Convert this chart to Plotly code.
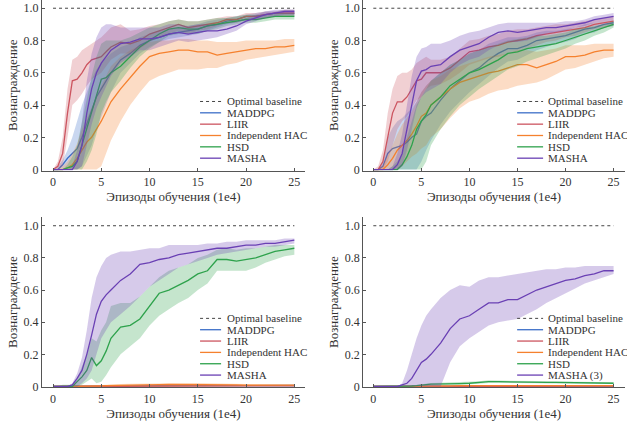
import plotly.graph_objects as go

# episodes (1e4) shared by every panel
EPISODES = [0, 0.5, 1, 1.5, 2, 2.5, 3, 3.5, 4, 4.5, 5, 5.5, 6, 7, 8, 9, 10,
            11, 12, 13, 14, 15, 16, 17, 18, 19, 20, 21, 22, 23, 24, 25]
BASELINE_X = [0, 25]
BASELINE_Y = [1.0, 1.0]

NAMES = ['MADDPG', 'LIIR', 'Independent HAC', 'HSD', 'MASHA']
COLORS = ['#3d6fc8', '#cc5560', '#f5812e', '#2ea24c', '#6a40b4']
BAND_ALPHA = 0.28

# ---- panel A (top left)
A_MADDPG = [0, 0, 0.03, 0.07, 0.10, 0.13, 0.20, 0.28, 0.37, 0.45, 0.50, 0.55, 0.60, 0.68, 0.72, 0.77, 0.80, 0.82, 0.84, 0.85, 0.86, 0.87, 0.89, 0.90, 0.92, 0.93, 0.95, 0.95, 0.96, 0.97, 0.97, 0.97]
A_MADDPG_LO = [0, 0, 0, 0, 0, 0, 0.02, 0.08, 0.15, 0.25, 0.32, 0.40, 0.48, 0.60, 0.66, 0.72, 0.76, 0.79, 0.81, 0.82, 0.83, 0.84, 0.86, 0.88, 0.90, 0.91, 0.93, 0.93, 0.94, 0.95, 0.95, 0.95]
A_MADDPG_HI = [0, 0.02, 0.06, 0.12, 0.20, 0.30, 0.40, 0.48, 0.56, 0.62, 0.66, 0.69, 0.72, 0.76, 0.78, 0.82, 0.84, 0.86, 0.87, 0.88, 0.89, 0.90, 0.92, 0.93, 0.94, 0.95, 0.96, 0.97, 0.98, 0.98, 0.99, 0.99]
A_LIIR = [0, 0.02, 0.10, 0.35, 0.55, 0.56, 0.60, 0.65, 0.68, 0.69, 0.70, 0.73, 0.76, 0.79, 0.78, 0.80, 0.84, 0.86, 0.88, 0.90, 0.88, 0.89, 0.90, 0.91, 0.93, 0.93, 0.95, 0.95, 0.96, 0.97, 0.97, 0.97]
A_LIIR_LO = [0, 0, 0.02, 0.20, 0.40, 0.43, 0.47, 0.52, 0.56, 0.58, 0.60, 0.64, 0.68, 0.72, 0.72, 0.75, 0.79, 0.82, 0.84, 0.86, 0.84, 0.86, 0.87, 0.89, 0.91, 0.91, 0.93, 0.93, 0.94, 0.95, 0.95, 0.95]
A_LIIR_HI = [0, 0.05, 0.20, 0.50, 0.68, 0.70, 0.74, 0.76, 0.78, 0.80, 0.82, 0.85, 0.88, 0.90, 0.86, 0.87, 0.89, 0.90, 0.92, 0.93, 0.92, 0.92, 0.93, 0.94, 0.95, 0.95, 0.97, 0.97, 0.98, 0.98, 0.99, 0.99]
A_HAC = [0, 0, 0, 0.01, 0.03, 0.07, 0.12, 0.17, 0.20, 0.25, 0.30, 0.36, 0.42, 0.50, 0.57, 0.64, 0.70, 0.72, 0.73, 0.74, 0.74, 0.73, 0.73, 0.71, 0.72, 0.73, 0.74, 0.75, 0.75, 0.76, 0.76, 0.77]
A_HAC_LO = [0, 0, 0, 0, 0, 0, 0, 0, 0, 0, 0.02, 0.10, 0.18, 0.30, 0.40, 0.48, 0.55, 0.58, 0.60, 0.62, 0.62, 0.62, 0.63, 0.63, 0.65, 0.66, 0.68, 0.69, 0.70, 0.71, 0.72, 0.73]
A_HAC_HI = [0, 0, 0.02, 0.05, 0.10, 0.16, 0.25, 0.32, 0.38, 0.45, 0.52, 0.58, 0.64, 0.70, 0.74, 0.77, 0.79, 0.80, 0.80, 0.81, 0.81, 0.80, 0.80, 0.79, 0.79, 0.79, 0.80, 0.80, 0.80, 0.80, 0.81, 0.81]
A_HSD = [0, 0, 0, 0.01, 0.02, 0.05, 0.15, 0.25, 0.35, 0.45, 0.56, 0.57, 0.60, 0.64, 0.70, 0.76, 0.80, 0.84, 0.87, 0.88, 0.87, 0.87, 0.89, 0.90, 0.91, 0.92, 0.93, 0.93, 0.94, 0.95, 0.95, 0.95]
A_HSD_LO = [0, 0, 0, 0, 0, 0, 0, 0.05, 0.12, 0.22, 0.35, 0.42, 0.48, 0.55, 0.63, 0.70, 0.75, 0.79, 0.83, 0.84, 0.84, 0.84, 0.86, 0.87, 0.89, 0.90, 0.91, 0.91, 0.92, 0.93, 0.93, 0.93]
A_HSD_HI = [0, 0, 0, 0.03, 0.08, 0.15, 0.30, 0.45, 0.58, 0.70, 0.78, 0.80, 0.80, 0.80, 0.82, 0.85, 0.88, 0.90, 0.92, 0.93, 0.92, 0.92, 0.93, 0.94, 0.94, 0.95, 0.96, 0.96, 0.96, 0.97, 0.97, 0.97]
A_MASHA = [0, 0, 0, 0, 0, 0.05, 0.15, 0.35, 0.50, 0.60, 0.66, 0.70, 0.74, 0.78, 0.79, 0.81, 0.81, 0.82, 0.84, 0.85, 0.84, 0.85, 0.86, 0.86, 0.87, 0.89, 0.92, 0.94, 0.96, 0.97, 0.98, 0.98]
A_MASHA_LO = [0, 0, 0, 0, 0, 0, 0.02, 0.15, 0.28, 0.38, 0.45, 0.52, 0.58, 0.66, 0.70, 0.74, 0.74, 0.76, 0.78, 0.80, 0.79, 0.80, 0.81, 0.82, 0.84, 0.86, 0.90, 0.92, 0.94, 0.95, 0.96, 0.96]
A_MASHA_HI = [0, 0, 0, 0, 0.02, 0.12, 0.30, 0.55, 0.72, 0.82, 0.88, 0.90, 0.90, 0.88, 0.88, 0.88, 0.88, 0.88, 0.90, 0.90, 0.89, 0.90, 0.90, 0.90, 0.91, 0.92, 0.94, 0.96, 0.98, 0.99, 0.99, 0.99]

# ---- panel B (top right)
B_MADDPG = [0, 0, 0.02, 0.10, 0.13, 0.14, 0.15, 0.17, 0.20, 0.22, 0.30, 0.33, 0.35, 0.43, 0.50, 0.55, 0.60, 0.63, 0.68, 0.72, 0.75, 0.75, 0.77, 0.80, 0.81, 0.82, 0.83, 0.85, 0.87, 0.88, 0.90, 0.91]
B_MADDPG_LO = [0, 0, 0, 0, 0, 0, 0, 0, 0, 0, 0.05, 0.12, 0.18, 0.28, 0.36, 0.42, 0.48, 0.53, 0.58, 0.63, 0.67, 0.68, 0.71, 0.74, 0.76, 0.78, 0.79, 0.81, 0.84, 0.85, 0.88, 0.89]
B_MADDPG_HI = [0, 0, 0.05, 0.20, 0.26, 0.30, 0.32, 0.35, 0.38, 0.42, 0.48, 0.52, 0.55, 0.60, 0.65, 0.68, 0.72, 0.74, 0.78, 0.80, 0.82, 0.82, 0.83, 0.85, 0.86, 0.86, 0.87, 0.88, 0.90, 0.91, 0.92, 0.93]
B_LIIR = [0, 0, 0.05, 0.20, 0.35, 0.42, 0.42, 0.45, 0.50, 0.55, 0.56, 0.60, 0.60, 0.60, 0.63, 0.68, 0.73, 0.74, 0.76, 0.77, 0.79, 0.80, 0.81, 0.83, 0.84, 0.85, 0.86, 0.87, 0.88, 0.90, 0.91, 0.92]
B_LIIR_LO = [0, 0, 0, 0.05, 0.15, 0.25, 0.30, 0.33, 0.38, 0.43, 0.45, 0.50, 0.52, 0.53, 0.56, 0.60, 0.65, 0.67, 0.69, 0.70, 0.72, 0.73, 0.75, 0.77, 0.79, 0.80, 0.82, 0.83, 0.85, 0.87, 0.88, 0.89]
B_LIIR_HI = [0, 0.02, 0.12, 0.35, 0.50, 0.58, 0.60, 0.60, 0.62, 0.66, 0.68, 0.70, 0.68, 0.68, 0.70, 0.75, 0.80, 0.81, 0.83, 0.84, 0.86, 0.87, 0.87, 0.88, 0.89, 0.90, 0.90, 0.91, 0.92, 0.93, 0.94, 0.95]
B_HAC = [0, 0, 0, 0.03, 0.07, 0.12, 0.15, 0.18, 0.22, 0.27, 0.33, 0.35, 0.40, 0.45, 0.50, 0.54, 0.56, 0.58, 0.60, 0.61, 0.63, 0.65, 0.65, 0.63, 0.65, 0.67, 0.70, 0.70, 0.71, 0.73, 0.74, 0.74]
B_HAC_LO = [0, 0, 0, 0, 0, 0, 0.02, 0.05, 0.08, 0.10, 0.13, 0.15, 0.20, 0.25, 0.32, 0.38, 0.42, 0.44, 0.47, 0.49, 0.50, 0.52, 0.53, 0.54, 0.56, 0.59, 0.62, 0.63, 0.65, 0.67, 0.69, 0.70]
B_HAC_HI = [0, 0, 0.02, 0.08, 0.15, 0.22, 0.28, 0.32, 0.36, 0.42, 0.48, 0.52, 0.55, 0.58, 0.62, 0.64, 0.66, 0.68, 0.70, 0.71, 0.72, 0.74, 0.74, 0.73, 0.74, 0.75, 0.77, 0.77, 0.77, 0.78, 0.78, 0.78]
B_HSD = [0, 0, 0, 0, 0, 0, 0.03, 0.08, 0.15, 0.25, 0.30, 0.34, 0.40, 0.45, 0.52, 0.56, 0.60, 0.62, 0.65, 0.68, 0.72, 0.73, 0.75, 0.76, 0.77, 0.78, 0.80, 0.82, 0.84, 0.86, 0.88, 0.90]
B_HSD_LO = [0, 0, 0, 0, 0, 0, 0, 0, 0, 0, 0, 0.05, 0.15, 0.25, 0.33, 0.40, 0.45, 0.50, 0.54, 0.58, 0.62, 0.64, 0.67, 0.69, 0.71, 0.73, 0.75, 0.78, 0.80, 0.83, 0.85, 0.88]
B_HSD_HI = [0, 0, 0, 0, 0.02, 0.05, 0.10, 0.20, 0.30, 0.40, 0.45, 0.50, 0.55, 0.60, 0.65, 0.68, 0.72, 0.74, 0.76, 0.78, 0.80, 0.81, 0.82, 0.83, 0.83, 0.84, 0.85, 0.87, 0.88, 0.89, 0.90, 0.92]
B_MASHA = [0, 0, 0, 0, 0, 0.03, 0.10, 0.25, 0.40, 0.55, 0.61, 0.62, 0.64, 0.65, 0.70, 0.74, 0.76, 0.78, 0.82, 0.85, 0.86, 0.85, 0.86, 0.87, 0.88, 0.88, 0.89, 0.90, 0.91, 0.93, 0.94, 0.95]
B_MASHA_LO = [0, 0, 0, 0, 0, 0, 0.02, 0.12, 0.25, 0.38, 0.45, 0.48, 0.50, 0.53, 0.60, 0.65, 0.68, 0.70, 0.74, 0.77, 0.79, 0.79, 0.80, 0.82, 0.84, 0.85, 0.86, 0.88, 0.89, 0.91, 0.92, 0.93]
B_MASHA_HI = [0, 0, 0, 0, 0.02, 0.10, 0.22, 0.40, 0.58, 0.70, 0.75, 0.76, 0.78, 0.78, 0.80, 0.83, 0.85, 0.86, 0.88, 0.90, 0.91, 0.91, 0.91, 0.91, 0.91, 0.91, 0.92, 0.92, 0.93, 0.95, 0.96, 0.97]

# ---- panel C (bottom left)
C_MADDPG = [0, 0, 0, 0, 0, 0, 0, 0, 0, 0, 0.002, 0.003, 0.004, 0.005, 0.005, 0.006, 0.006, 0.007, 0.007, 0.008, 0.008, 0.008, 0.007, 0.007, 0.007, 0.006, 0.006, 0.006, 0.006, 0.006, 0.006, 0.006]
C_LIIR = [0, 0, 0, 0, 0, 0, 0, 0, 0, 0, 0.001, 0.002, 0.002, 0.003, 0.003, 0.003, 0.004, 0.004, 0.004, 0.004, 0.004, 0.004, 0.004, 0.004, 0.004, 0.004, 0.004, 0.004, 0.004, 0.004, 0.004, 0.004]
C_HAC = [0, 0, 0, 0, 0, 0, 0, 0.001, 0.002, 0.003, 0.004, 0.005, 0.006, 0.008, 0.009, 0.010, 0.012, 0.012, 0.013, 0.013, 0.014, 0.013, 0.012, 0.011, 0.010, 0.010, 0.009, 0.009, 0.009, 0.008, 0.008, 0.008]
C_HAC_LO = [0, 0, 0, 0, 0, 0, 0, 0, 0, 0, 0, 0, 0, 0.002, 0.003, 0.004, 0.005, 0.005, 0.006, 0.006, 0.006, 0.006, 0.005, 0.005, 0.004, 0.004, 0.004, 0.004, 0.004, 0.004, 0.004, 0.004]
C_HAC_HI = [0, 0, 0, 0, 0, 0, 0.002, 0.004, 0.006, 0.008, 0.010, 0.012, 0.014, 0.016, 0.017, 0.018, 0.020, 0.020, 0.021, 0.021, 0.022, 0.021, 0.020, 0.018, 0.017, 0.016, 0.015, 0.015, 0.014, 0.013, 0.013, 0.013]
C_HSD = [0, 0, 0, 0, 0, 0.03, 0.06, 0.10, 0.18, 0.13, 0.16, 0.22, 0.30, 0.37, 0.38, 0.42, 0.50, 0.58, 0.60, 0.63, 0.66, 0.70, 0.72, 0.79, 0.79, 0.78, 0.79, 0.80, 0.82, 0.84, 0.85, 0.86]
C_HSD_LO = [0, 0, 0, 0, 0, 0, 0.01, 0.03, 0.05, 0.02, 0.03, 0.07, 0.12, 0.20, 0.25, 0.30, 0.38, 0.44, 0.48, 0.52, 0.55, 0.60, 0.64, 0.72, 0.72, 0.72, 0.72, 0.74, 0.77, 0.79, 0.81, 0.82]
C_HSD_HI = [0, 0, 0.01, 0.01, 0.01, 0.05, 0.12, 0.20, 0.30, 0.28, 0.35, 0.40, 0.50, 0.52, 0.52, 0.56, 0.62, 0.68, 0.72, 0.74, 0.76, 0.80, 0.82, 0.85, 0.86, 0.85, 0.86, 0.86, 0.87, 0.88, 0.88, 0.88]
C_MASHA = [0, 0, 0, 0, 0.01, 0.05, 0.10, 0.20, 0.32, 0.45, 0.53, 0.57, 0.60, 0.66, 0.70, 0.76, 0.77, 0.79, 0.80, 0.82, 0.83, 0.84, 0.85, 0.86, 0.86, 0.87, 0.88, 0.88, 0.89, 0.89, 0.90, 0.91]
C_MASHA_LO = [0, 0, 0, 0, 0, 0, 0.02, 0.05, 0.10, 0.20, 0.30, 0.35, 0.40, 0.45, 0.50, 0.56, 0.62, 0.66, 0.70, 0.74, 0.76, 0.78, 0.80, 0.82, 0.83, 0.84, 0.85, 0.86, 0.87, 0.87, 0.88, 0.89]
C_MASHA_HI = [0, 0, 0, 0, 0.02, 0.08, 0.18, 0.35, 0.55, 0.68, 0.75, 0.80, 0.82, 0.84, 0.84, 0.85, 0.86, 0.86, 0.88, 0.88, 0.88, 0.88, 0.89, 0.89, 0.90, 0.90, 0.91, 0.91, 0.91, 0.91, 0.92, 0.92]

# ---- panel D (bottom right)
D_MADDPG = [0, 0, 0, 0, 0, 0, 0, 0, 0, 0, 0.001, 0.001, 0.002, 0.002, 0.003, 0.003, 0.003, 0.003, 0.003, 0.003, 0.003, 0.003, 0.003, 0.003, 0.003, 0.003, 0.003, 0.003, 0.003, 0.003, 0.003, 0.003]
D_LIIR = [0, 0, 0, 0, 0, 0, 0, 0, 0, 0, 0.001, 0.001, 0.001, 0.002, 0.002, 0.002, 0.002, 0.002, 0.002, 0.002, 0.002, 0.002, 0.002, 0.002, 0.002, 0.002, 0.002, 0.002, 0.002, 0.002, 0.002, 0.002]
D_HAC = [0, 0, 0, 0, 0, 0, 0, 0, 0.001, 0.001, 0.002, 0.002, 0.003, 0.004, 0.004, 0.005, 0.005, 0.005, 0.005, 0.005, 0.005, 0.005, 0.005, 0.005, 0.005, 0.005, 0.005, 0.005, 0.005, 0.005, 0.005, 0.005]
D_HSD = [0, 0, 0, 0, 0, 0, 0, 0, 0.003, 0.005, 0.010, 0.012, 0.015, 0.015, 0.017, 0.018, 0.020, 0.025, 0.030, 0.030, 0.030, 0.030, 0.028, 0.027, 0.026, 0.025, 0.024, 0.023, 0.022, 0.021, 0.020, 0.020]
D_HSD_LO = [0, 0, 0, 0, 0, 0, 0, 0, 0, 0, 0.004, 0.005, 0.007, 0.008, 0.010, 0.011, 0.013, 0.017, 0.022, 0.022, 0.022, 0.022, 0.021, 0.020, 0.019, 0.018, 0.018, 0.017, 0.016, 0.015, 0.015, 0.015]
D_HSD_HI = [0, 0, 0, 0, 0, 0, 0, 0.002, 0.006, 0.010, 0.016, 0.019, 0.022, 0.023, 0.025, 0.026, 0.028, 0.033, 0.038, 0.038, 0.038, 0.038, 0.035, 0.034, 0.033, 0.032, 0.030, 0.029, 0.028, 0.027, 0.026, 0.026]
D_MASHA = [0, 0, 0, 0, 0, 0, 0.01, 0.02, 0.05, 0.10, 0.15, 0.17, 0.20, 0.27, 0.36, 0.42, 0.44, 0.48, 0.52, 0.52, 0.54, 0.54, 0.57, 0.60, 0.62, 0.64, 0.66, 0.67, 0.69, 0.70, 0.72, 0.72]
D_MASHA_LO = [0, 0, 0, 0, 0, 0, 0, 0, 0, 0, 0, 0, 0, 0, 0.15, 0.25, 0.30, 0.34, 0.38, 0.40, 0.41, 0.42, 0.45, 0.48, 0.52, 0.55, 0.58, 0.61, 0.64, 0.66, 0.68, 0.70]
D_MASHA_HI = [0, 0, 0, 0, 0, 0, 0.02, 0.10, 0.20, 0.30, 0.38, 0.44, 0.48, 0.55, 0.60, 0.63, 0.62, 0.66, 0.68, 0.68, 0.69, 0.70, 0.71, 0.72, 0.73, 0.73, 0.74, 0.74, 0.75, 0.75, 0.75, 0.75]

Y_TICKS = [0, 0.2, 0.4, 0.6, 0.8, 1.0]
Y_TICK_TEXT = ['0', '0.2', '0.4', '0.6', '0.8', '1.0']
X_TICKS = [0, 5, 10, 15, 20, 25]
X_TITLE = 'Эпизоды обучения (1e4)'
Y_TITLE = 'Вознаграждение'

# (axis suffix, series [(mean, lo, hi)], label of the last legend row)
panels = [
    ('', [(A_MADDPG, A_MADDPG_LO, A_MADDPG_HI), (A_LIIR, A_LIIR_LO, A_LIIR_HI),
          (A_HAC, A_HAC_LO, A_HAC_HI), (A_HSD, A_HSD_LO, A_HSD_HI),
          (A_MASHA, A_MASHA_LO, A_MASHA_HI)], 'MASHA'),
    ('2', [(B_MADDPG, B_MADDPG_LO, B_MADDPG_HI), (B_LIIR, B_LIIR_LO, B_LIIR_HI),
           (B_HAC, B_HAC_LO, B_HAC_HI), (B_HSD, B_HSD_LO, B_HSD_HI),
           (B_MASHA, B_MASHA_LO, B_MASHA_HI)], 'MASHA'),
    ('3', [(C_MADDPG, None, None), (C_LIIR, None, None),
           (C_HAC, C_HAC_LO, C_HAC_HI), (C_HSD, C_HSD_LO, C_HSD_HI),
           (C_MASHA, C_MASHA_LO, C_MASHA_HI)], 'MASHA'),
    ('4', [(D_MADDPG, None, None), (D_LIIR, None, None),
           (D_HAC, None, None), (D_HSD, D_HSD_LO, D_HSD_HI),
           (D_MASHA, D_MASHA_LO, D_MASHA_HI)], 'MASHA (3)'),
]


def rgba(hex_color, a):
    h = hex_color.lstrip('#')
    return 'rgba(%d,%d,%d,%.2f)' % (int(h[0:2], 16), int(h[2:4], 16), int(h[4:6], 16), a)


FONT = 'Liberation Serif, DejaVu Serif, serif'
fig = go.Figure()

for suffix, series, last_label in panels:
    xa, ya = 'x' + suffix, 'y' + suffix
    fig.add_trace(go.Scatter(x=BASELINE_X, y=BASELINE_Y, mode='lines', xaxis=xa, yaxis=ya,
                             line=dict(color='#444', width=1, dash='dot'), showlegend=False))
    for (mean, lo, hi), color in zip(series, COLORS):
        if lo is not None:
            fig.add_trace(go.Scatter(x=EPISODES + EPISODES[::-1], y=hi + lo[::-1],
                                     fill='toself', fillcolor=rgba(color, BAND_ALPHA),
                                     line=dict(width=0), mode='lines', hoverinfo='skip',
                                     xaxis=xa, yaxis=ya, showlegend=False))
        fig.add_trace(go.Scatter(x=EPISODES, y=mean, mode='lines', xaxis=xa, yaxis=ya,
                                 line=dict(color=color, width=1.3), showlegend=False))

    # compact legend, drawn in the panel's domain coordinates
    labels = ['Optimal baseline'] + NAMES[:-1] + [last_label]
    colors = ['#444'] + COLORS
    left_col = suffix in ('', '3')
    x0, x1, xt = (0.601, 0.681, 0.696) if left_col else (0.588, 0.687, 0.698)
    for i, (lab, col) in enumerate(zip(labels, colors)):
        yy = 0.405 - i * 0.0665
        fig.add_shape(type='line', xref=xa + ' domain', yref=ya + ' domain',
                      x0=x0, x1=x1, y0=yy, y1=yy,
                      line=dict(color=col, width=1.3 if i else 1, dash='dot' if i == 0 else 'solid'))
        fig.add_annotation(xref=xa + ' domain', yref=ya + ' domain', x=xt, y=yy,
                           text=lab, showarrow=False, xanchor='left', yanchor='middle',
                           font=dict(family=FONT, size=11, color='#333'))

axis_common = dict(showline=True, linecolor='#555', linewidth=1, ticks='inside', ticklen=3,
                   tickcolor='#555', showgrid=False, zeroline=False,
                   tickfont=dict(family=FONT, size=12, color='#333'))
xl = dict(domain=[0.067, 0.4864], range=[-1.14, 26.1])
xr = dict(domain=[0.579, 0.997], range=[-1.07, 26.2])
yt = dict(domain=[0.592, 1.0], range=[-0.006, 1.051])
yb = dict(domain=[0.0731, 0.4811], range=[-0.006, 1.055])
xt_title = dict(text=X_TITLE, font=dict(family=FONT, size=13, color='#333'), standoff=2)
yt_title = dict(text=Y_TITLE, font=dict(family=FONT, size=13, color='#333'), standoff=3)

layout = {}
for suffix, xd, yd in [('', xl, yt), ('2', xr, yt), ('3', xl, yb), ('4', xr, yb)]:
    layout['xaxis' + suffix] = dict(axis_common, **xd, tickvals=X_TICKS, title=xt_title,
                                    anchor='y' + suffix)
    layout['yaxis' + suffix] = dict(axis_common, **yd, tickvals=Y_TICKS, ticktext=Y_TICK_TEXT,
                                    title=yt_title, anchor='x' + suffix)

fig.update_layout(**layout, width=627, height=424, margin=dict(l=0, r=0, t=0, b=0),
                  plot_bgcolor='white', paper_bgcolor='white', showlegend=False,
                  font=dict(family=FONT))
fig.write_html("out.html", config={'displayModeBar': False},
               post_script="document.body.style.margin='0';document.body.style.padding='0';")
